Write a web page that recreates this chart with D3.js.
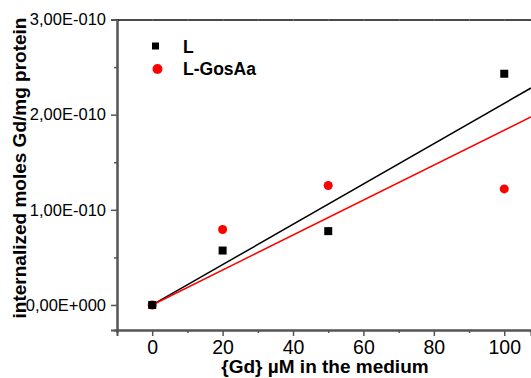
<!DOCTYPE html>
<html><head><meta charset="utf-8">
<script src="https://cdn.jsdelivr.net/npm/d3@7"></script>
<style>body{margin:0;background:#fff}svg{display:block}text{font-family:"Liberation Sans",Arial,sans-serif}</style>
</head><body><svg id="c" width="531" height="378"></svg>
<script>
const concL = [0, 20, 50, 100];
const valL = [0, 0.572e-10, 0.776e-10, 2.43e-10];
const concG = [0, 20, 50, 100];
const valG = [0, 0.793e-10, 1.256e-10, 1.22e-10];
const fitL = [[0, 0], [107.6, 2.28e-10]];
const fitG = [[0, 0], [107.6, 1.976e-10]];
const xTicks = [0, 20, 40, 60, 80, 100];
const xMinor = [-10, 10, 30, 50, 70, 90];
const yTicks = [0, 1e-10, 2e-10, 3e-10];
const yTickLabels = ["0,00E+000", "1,00E-010", "2,00E-010", "3,00E-010"];
const yMinor = [0.5e-10, 1.5e-10, 2.5e-10];
const seriesNames = ["L", "L-GosAa"];

const svg = d3.select("#c");
const x = d3.scaleLinear().domain([-10, 107.6]).range([117, 531]);
const y = d3.scaleLinear().domain([-0.263e-10, 3e-10]).range([330, 19.5]);

// axes
const axCol = "#555";
const gBottom = svg.append("g").attr("transform", "translate(0,330)")
  .call(d3.axisBottom(x).tickValues(xTicks).tickSize(6).tickPadding(4).tickFormat(d3.format("d")));
const gBMinor = svg.append("g").attr("transform", "translate(0,330)")
  .call(d3.axisBottom(x).tickValues(xMinor).tickSize(3).tickFormat(""));
const gLeft = svg.append("g").attr("transform", "translate(117,0)")
  .call(d3.axisLeft(y).tickValues(yTicks).tickSize(6).tickPadding(5).tickFormat((d, i) => yTickLabels[i]));
const gLMinor = svg.append("g").attr("transform", "translate(117,0)")
  .call(d3.axisLeft(y).tickValues(yMinor).tickSize(3).tickFormat(""));
const gTop = svg.append("g").attr("transform", "translate(0,19.5)")
  .call(d3.axisTop(x).tickValues(xTicks.concat(xMinor)).tickSize(-1.5).tickFormat(""));

[gBottom, gBMinor, gLeft, gLMinor].forEach(g => {
  g.select(".domain").attr("stroke", axCol).attr("stroke-width", 2);
  g.selectAll(".tick line").attr("stroke", axCol).attr("stroke-width", 1.5);
});
gTop.select(".domain").attr("stroke", "#111").attr("stroke-width", 1.5);
gTop.selectAll(".tick line").attr("stroke", "#777").attr("stroke-width", 1);
gBottom.selectAll("text").attr("font-size", 19.5).attr("fill", "#000")
  .attr("font-family", "Liberation Sans, Arial, sans-serif");
gLeft.selectAll("text").attr("font-size", 16.5).attr("fill", "#000")
  .attr("font-family", "Liberation Sans, Arial, sans-serif");

// fit lines
const line = d3.line().x(d => x(d[0])).y(d => y(d[1]));
svg.append("path").datum(fitL).attr("d", line).attr("fill", "none").attr("stroke", "#000").attr("stroke-width", 1.5);
svg.append("path").datum(fitG).attr("d", line).attr("fill", "none").attr("stroke", "#f00").attr("stroke-width", 1.5);

// points
svg.append("g").selectAll("circle").data(concG.map((c, i) => [c, valG[i]])).join("circle")
  .attr("cx", d => x(d[0])).attr("cy", d => y(d[1])).attr("r", 4.5).attr("fill", "#f00");
svg.append("g").selectAll("rect").data(concL.map((c, i) => [c, valL[i]])).join("rect")
  .attr("x", d => x(d[0]) - 4).attr("y", d => y(d[1]) - 4).attr("width", 8).attr("height", 8).attr("fill", "#000");

// legend
svg.append("rect").attr("x", 152).attr("y", 42.5).attr("width", 7).attr("height", 7).attr("fill", "#000");
svg.append("circle").attr("cx", 157.5).attr("cy", 69).attr("r", 5).attr("fill", "#f00");
svg.append("text").attr("x", 183).attr("y", 52.5).attr("font-size", 17.5).attr("font-weight", "bold").text(seriesNames[0]);
svg.append("text").attr("x", 183).attr("y", 75).attr("font-size", 17.5).attr("font-weight", "bold").text(seriesNames[1]);

// titles
svg.append("text").attr("x", 325).attr("y", 373).attr("text-anchor", "middle")
  .attr("font-size", 19).attr("font-weight", "bold").text("{Gd} \u00b5M in the medium");
svg.append("text").attr("transform", "translate(26,168) rotate(-90)").attr("text-anchor", "middle")
  .attr("font-size", 19).attr("font-weight", "bold").text("internalized moles Gd/mg protein");
</script></body></html>
